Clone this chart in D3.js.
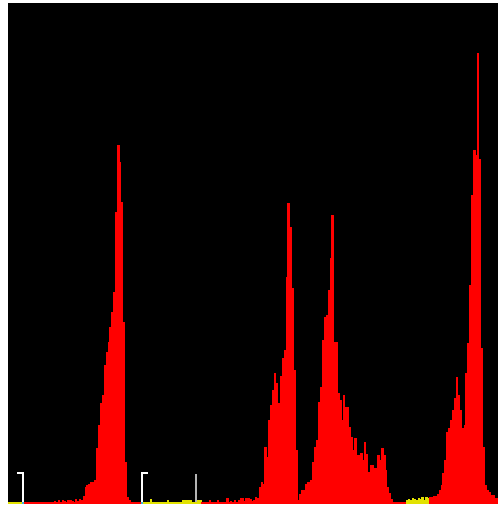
<!DOCTYPE html>
<html>
<head>
<meta charset="utf-8">
<script src="https://cdn.jsdelivr.net/npm/d3@7"></script>
<style>
  body { margin: 0; background: #fff; }
  svg { display: block; }
</style>
</head>
<body>
<div id="chart"></div>
<script>
// 256-bin levels histogram
const counts = [
  0, 0, 0, 0, 0, 0, 0, 0, 0, 0, 0, 0, 0, 0, 0, 0,
  0, 0, 0, 0, 0, 0, 0, 0, 1, 0, 2, 0, 2, 1, 0, 2,
  2, 1, 0, 3, 1, 3, 2, 6, 15, 17, 18, 20, 20, 22, 54, 77,
  99, 107, 137, 150, 160, 175, 190, 210, 290, 357, 340, 300, 180, 40, 5, 2,
  0, 0, 0, 0, 0, 0, 0, 0, 0, 0, 3, 0, 0, 0, 0, 0,
  0, 0, 0, 2, 0, 0, 0, 0, 0, 0, 0, 2, 2, 2, 2, 2,
  0, 0, 2, 2, 2, 0, 0, 0, 0, 2, 0, 0, 0, 2, 0, 0,
  0, 0, 4, 0, 1, 0, 2, 0, 2, 4, 4, 1, 4, 4, 3, 1,
  2, 5, 4, 15, 20, 18, 55, 45, 82, 97, 112, 129, 119, 99, 126, 144,
  152, 225, 299, 275, 214, 132, 52, 2, 8, 12, 12, 18, 20, 20, 22, 40,
  55, 62, 100, 115, 162, 185, 187, 212, 244, 287, 160, 160, 109, 102, 82, 107,
  95, 95, 75, 65, 52, 64, 47, 47, 49, 42, 60, 48, 30, 37, 37, 34,
  34, 47, 42, 54, 47, 32, 15, 9, 3, 0, 0, 0, 0, 0, 0, 0,
  2, 3, 2, 4, 3, 2, 4, 3, 5, 2, 5, 4, 5, 5, 6, 6,
  8, 12, 17, 29, 42, 70, 74, 82, 92, 104, 125, 107, 92, 74, 77, 129,
  159, 217, 307, 352, 347, 449, 343, 154, 55, 17, 12, 10, 7, 7, 4, 4
];

// bin ranges drawn in yellow instead of red
const yellowRanges = [[0, 7], [70, 100], [208, 219]];

// input level brackets and the midtone marker (in bins)
const brackets = [
  { bin: 8, side: "right" },
  { bin: 70, side: "left" }
];
const midtone = 98;

const width = 498, height = 506;
const plotLeft = 8, plotTop = 3, plotRight = 498, base = 502;

const svg = d3.select("#chart")
  .append("svg")
  .attr("width", width)
  .attr("height", height)
  .attr("shape-rendering", "crispEdges");

svg.append("rect")
  .attr("x", plotLeft).attr("y", plotTop)
  .attr("width", plotRight - plotLeft).attr("height", base + 2 - plotTop)
  .attr("fill", "#000");

const x = d3.scaleLinear().domain([0, counts.length]).range([plotLeft, plotRight]);
const y = d3.scaleLinear().domain([0, 499]).range([base, plotTop]);

const isYellow = i => yellowRanges.some(r => i >= r[0] && i <= r[1]);
const color = i => isYellow(i) ? "#e2e200" : "#ff0000";

// baseline strip, coloured per bin
svg.append("g")
  .selectAll("rect")
  .data(counts)
  .enter().append("rect")
  .attr("x", (d, i) => x(i))
  .attr("y", base)
  .attr("width", (d, i) => x(i + 1) - x(i) + 0.5)
  .attr("height", 2)
  .attr("fill", (d, i) => color(i));

// bars
svg.append("g")
  .selectAll("rect")
  .data(counts)
  .enter().append("rect")
  .attr("x", (d, i) => x(i))
  .attr("y", d => y(d))
  .attr("width", (d, i) => x(i + 1) - x(i) + 0.5)
  .attr("height", d => base - y(d))
  .attr("fill", (d, i) => color(i));

// midtone marker
svg.append("rect")
  .attr("x", Math.round(x(midtone)) - 1)
  .attr("y", 474)
  .attr("width", 2)
  .attr("height", base - 474)
  .attr("fill", "#b4b4b4");

// bracket markers
const bg = svg.append("g").attr("fill", "#fff");
brackets.forEach(b => {
  const vx = Math.round(x(b.bin)) - 1;
  bg.append("rect").attr("x", vx).attr("y", 472).attr("width", 2).attr("height", base - 472);
  bg.append("rect")
    .attr("x", b.side === "right" ? vx - 5 : vx)
    .attr("y", 472).attr("width", 7).attr("height", 2);
  svg.append("rect")
    .attr("x", vx).attr("y", base).attr("width", 2).attr("height", 2)
    .attr("fill", "#3cb4dc");
});
</script>
</body>
</html>
